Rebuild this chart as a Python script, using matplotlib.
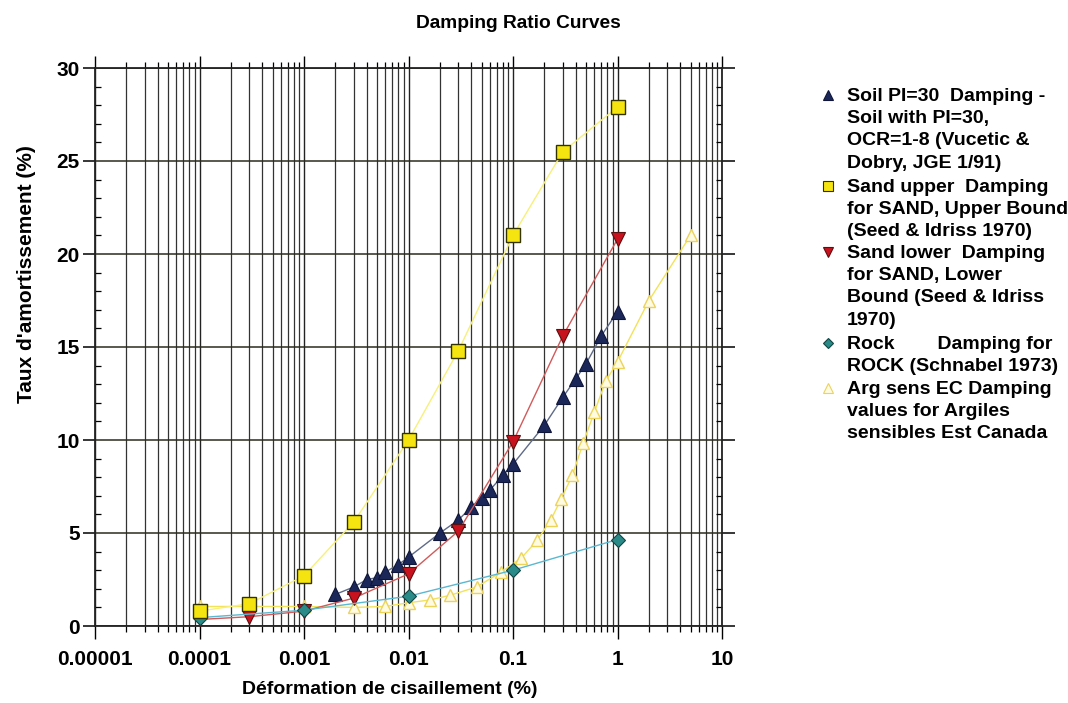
import matplotlib
matplotlib.use('Agg')
import matplotlib.pyplot as plt
from matplotlib.lines import Line2D
from matplotlib.ticker import LogLocator, FixedLocator, NullFormatter

# ---- data ----
soil_x = [0.002, 0.003, 0.004, 0.005, 0.006, 0.008, 0.01, 0.02, 0.03, 0.04, 0.05,
          0.06, 0.08, 0.1, 0.2, 0.3, 0.4, 0.5, 0.7, 1.0]
soil_y = [1.7, 2.1, 2.5, 2.6, 2.9, 3.3, 3.7, 5.0, 5.7, 6.4, 6.9,
          7.3, 8.1, 8.7, 10.8, 12.3, 13.3, 14.1, 15.6, 16.9]

sand_up_x = [0.0001, 0.0003, 0.001, 0.003, 0.01, 0.03, 0.1, 0.3, 1.0]
sand_up_y = [0.8, 1.2, 2.7, 5.6, 10.0, 14.8, 21.0, 25.5, 27.9]

sand_lo_x = [0.0001, 0.0003, 0.001, 0.003, 0.01, 0.03, 0.1, 0.3, 1.0]
sand_lo_y = [0.35, 0.5, 0.8, 1.5, 2.8, 5.1, 9.9, 15.6, 20.8]

rock_x = [0.0001, 0.001, 0.01, 0.1, 1.0]
rock_y = [0.45, 0.85, 1.6, 3.0, 4.65]

arg_x = [0.0001, 0.001, 0.003, 0.006, 0.01, 0.016, 0.025, 0.045, 0.077, 0.12,
         0.17, 0.23, 0.29, 0.37, 0.47, 0.6, 0.77, 1.0, 2.0, 5.0]
arg_y = [1.05, 1.05, 1.0, 1.05, 1.25, 1.4, 1.65, 2.1, 2.9, 3.65,
         4.6, 5.7, 6.85, 8.1, 9.85, 11.5, 13.15, 14.2, 17.5, 21.0]

x_ticks = [1e-5, 1e-4, 1e-3, 1e-2, 1e-1, 1, 10]
x_labels = ['0.00001', '0.0001', '0.001', '0.01', '0.1', '1', '10']
y_ticks = [0, 5, 10, 15, 20, 25, 30]

legend_labels = [
    "Soil PI=30  Damping -\nSoil with PI=30,\nOCR=1-8 (Vucetic &\nDobry, JGE 1/91)",
    "Sand upper  Damping\nfor SAND, Upper Bound\n(Seed & Idriss 1970)",
    "Sand lower  Damping\nfor SAND, Lower\nBound (Seed & Idriss\n1970)",
    "Rock        Damping for\nROCK (Schnabel 1973)",
    "Arg sens EC Damping\nvalues for Argiles\nsensibles Est Canada",
]

plain = ['Liberation Sans', 'DejaVu Sans']

fig = plt.figure(figsize=(10.68, 7.03), dpi=100)
ax = fig.add_axes([95 / 1068, 1 - 626 / 703, 627 / 1068, 558 / 703])

# grid
ax.set_xscale('log')
ax.set_xlim(1e-5, 10)
ax.set_ylim(0, 30)
ax.xaxis.set_major_locator(FixedLocator(x_ticks))
ax.xaxis.set_minor_locator(LogLocator(base=10, subs=range(2, 10), numticks=20))
ax.xaxis.set_minor_formatter(NullFormatter())
ax.set_xticks(x_ticks)
ax.set_xticklabels(x_labels)
ax.set_yticks(y_ticks)
ax.yaxis.set_minor_locator(FixedLocator(range(0, 31)))
ax.grid(True, which='major', axis='x', color='#222222', lw=1.0)
ax.grid(True, which='minor', axis='x', color='#333333', lw=0.9)
ax.grid(True, which='major', axis='y', color='#2b2b1e', lw=1.1)
ax.set_axisbelow(True)

ax.tick_params(axis='x', which='major', direction='out', length=9, width=1,
               top=True, bottom=True, pad=8)
ax.tick_params(axis='x', which='minor', direction='out', length=4.5, width=0.9,
               top=True, bottom=True)
ax.tick_params(axis='y', which='major', direction='out', length=9, width=1.1,
               left=True, right=True, pad=2)
ax.tick_params(axis='y', which='minor', direction='in', length=4, width=0.9,
               left=True, right=True)
for s in ax.spines.values():
    s.set_linewidth(1.3)
    s.set_color('#222222')

for lab in ax.get_xticklabels():
    lab.set_fontfamily(plain)
    lab.set_fontweight('bold')
    lab.set_fontsize(15)
for lab in ax.get_yticklabels():
    lab.set_fontfamily(plain)
    lab.set_fontweight('bold')
    lab.set_fontsize(15)

# series
ax.plot(arg_x, arg_y, color='#f2e25a', lw=1, marker='^', ms=8,
        mfc='#fffbe0', mec='#ecd35a', mew=1, zorder=3)
ax.plot(soil_x, soil_y, color='#5e6a88', lw=1, marker='^', ms=9.5,
        mfc='#1b2758', mec='#0e1538', mew=0.8, zorder=4)
ax.plot(sand_lo_x, sand_lo_y, color='#d25a5a', lw=1, marker='v', ms=9.5,
        mfc='#c8121e', mec='#5a1010', mew=0.8, zorder=4)
ax.plot(rock_x, rock_y, color='#5ab8d0', lw=1, marker='D', ms=7,
        mfc='#2a8a88', mec='#124444', mew=0.8, zorder=5)
ax.plot(sand_up_x, sand_up_y, color='#f7f07a', lw=1, marker='s', ms=9.5,
        mfc='#f5e410', mec='#333300', mew=1, zorder=5)

fig.text(518 / 1068, 1 - 23 / 703, 'Damping Ratio Curves', ha='center', va='center',
         fontsize=13.8, fontweight='bold', family=plain)
fig.text(390 / 1068, 1 - 690 / 703, 'Déformation de cisaillement (%)', ha='center',
         va='center', fontsize=14, fontweight='bold', family=plain)
fig.text(27 / 1068, 1 - 274 / 703, "Taux d'amortissement (%)", ha='center', va='center',
         rotation=90, fontsize=15, fontweight='bold', family=plain)

# legend (drawn by hand so markers sit on the first line)
styles = [
    dict(marker='^', mfc='#1b2758', mec='#0e1538'),
    dict(marker='s', mfc='#f5e410', mec='#333300'),
    dict(marker='v', mfc='#c8121e', mec='#5a1010'),
    dict(marker='D', mfc='#2a8a88', mec='#124444'),
    dict(marker='^', mfc='#fffbe0', mec='#ecd35a'),
]
first_rows = [95, 186, 252, 343, 388]
for lab, st, yy in zip(legend_labels, styles, first_rows):
    ms = 5 if st['marker'] == 'D' else 7
    fig.add_artist(Line2D([828 / 1068], [1 - yy / 703], ls='none', ms=ms, mew=0.8,
                          transform=fig.transFigure, **st))
    fig.text(847 / 1068, 1 - (yy - 7) / 703, lab, ha='left', va='top', fontsize=14,
             fontweight='bold', family=plain, linespacing=1.4)

fig.savefig('out.png', dpi=100, facecolor='white')
